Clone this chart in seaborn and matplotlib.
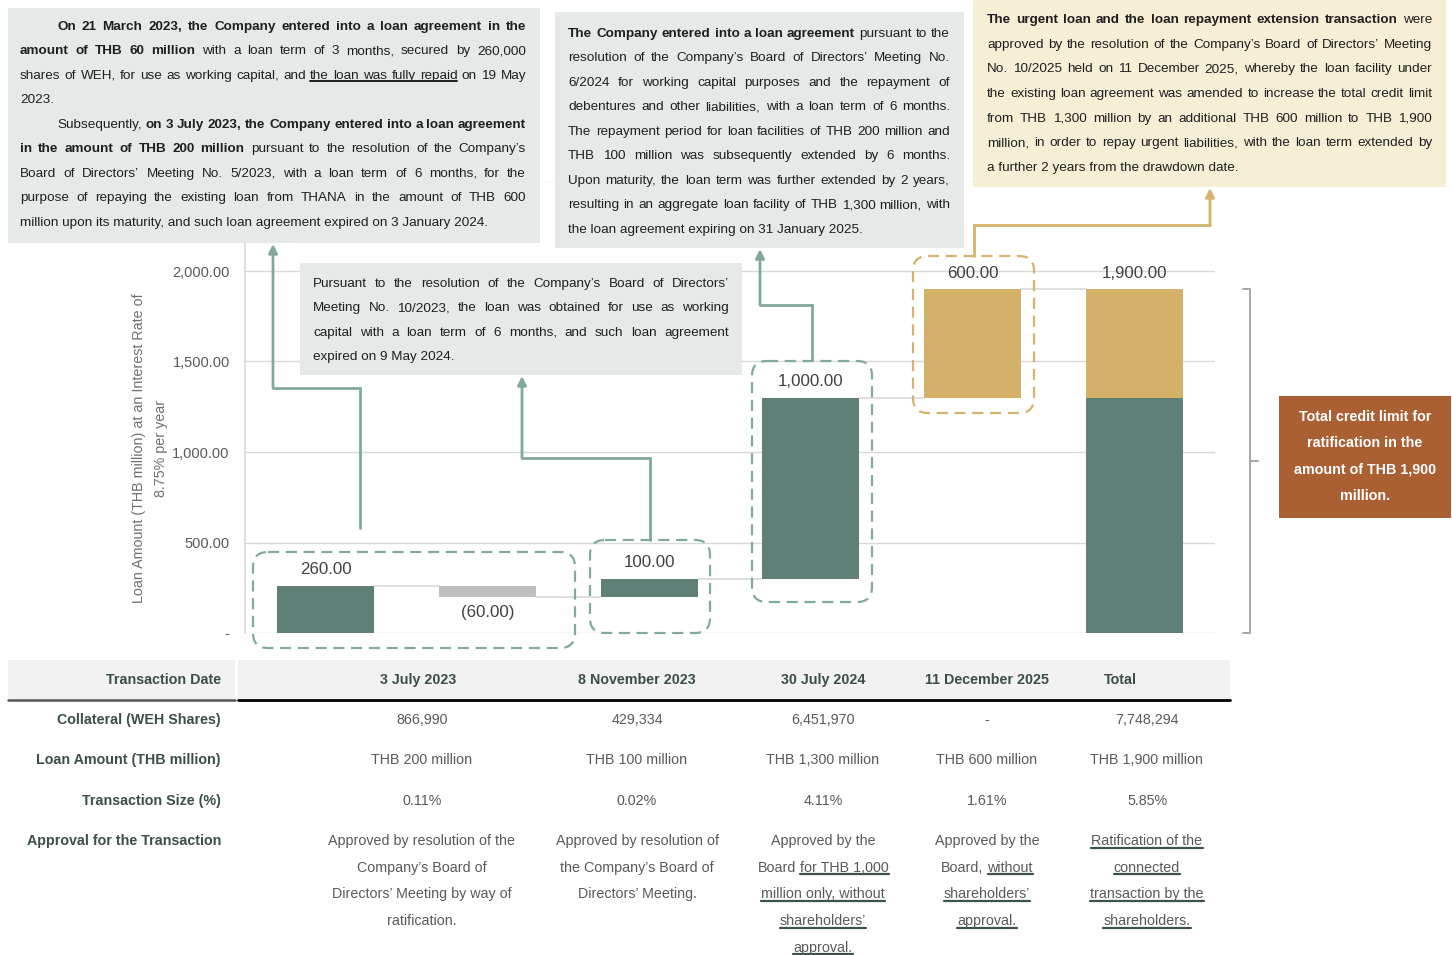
import numpy as np
import pandas as pd
import matplotlib
matplotlib.use("Agg")
import matplotlib.pyplot as plt
import seaborn as sns
from matplotlib.patches import Rectangle, FancyBboxPatch, FancyArrowPatch
from matplotlib.lines import Line2D
from matplotlib.transforms import Affine2D
from matplotlib.ticker import FuncFormatter

# ---------------- data ----------------
steps = ["3 July 2023", "Repaid", "8 November 2023", "30 July 2024", "11 December 2025", "Total"]
changes = [260, -60, 100, 1000, 600]
y_ticks = [0, 500, 1000, 1500, 2000, 2500]

table_dates = ["3 July 2023", "8 November 2023", "30 July 2024", "11 December 2025", "Total"]
collateral = ["866,990", "429,334", "6,451,970", "-", "7,748,294"]
loan_amount = ["THB 200 million", "THB 100 million", "THB 1,300 million", "THB 600 million", "THB 1,900 million"]
txn_size = ["0.11%", "0.02%", "4.11%", "1.61%", "5.85%"]
approval = [
    [[("Approved by resolution of the", "")], [("Company’s Board of", "")],
     [("Directors’ Meeting by way of", "")], [("ratification.", "")]],
    [[("Approved by resolution of", "")], [("the Company’s Board of", "")], [("Directors’ Meeting.", "")]],
    [[("Approved by the", "")], [("Board", ""), ("for THB 1,000", "u")], [("million only, without", "u")],
     [("shareholders’", "u")], [("approval.", "u")]],
    [[("Approved by the", "")], [("Board,", ""), ("without", "u")], [("shareholders’", "u")], [("approval.", "u")]],
    [[("Ratification of the", "u")], [("connected", "u")], [("transaction by the", "u")], [("shareholders.", "u")]],
]

box1_lines = [
    (True, "j", [("On 21 March 2023, the Company entered into a loan agreement in the", "b")]),
    (False, "j", [("amount of THB 60 million", "b"), ("with a loan term of 3 months, secured by 260,000", "")]),
    (False, "j", [("shares of WEH, for use as working capital, and", ""), ("the loan was fully repaid", "u"), ("on 19 May", "")]),
    (False, "l", [("2023.", "")]),
    (True, "j", [("Subsequently,", ""), ("on 3 July 2023, the Company entered into a loan agreement", "b")]),
    (False, "j", [("in the amount of THB 200 million", "b"), ("pursuant to the resolution of the Company’s", "")]),
    (False, "j", [("Board of Directors’ Meeting No. 5/2023, with a loan term of 6 months, for the", "")]),
    (False, "j", [("purpose of repaying the existing loan from THANA in the amount of THB 600", "")]),
    (False, "l", [("million upon its maturity, and such loan agreement expired on 3 January 2024.", "")]),
]
box2_lines = [
    (False, "j", [("The Company entered into a loan agreement", "b"), ("pursuant to the", "")]),
    (False, "j", [("resolution of the Company’s Board of Directors’ Meeting No.", "")]),
    (False, "j", [("6/2024 for working capital purposes and the repayment of", "")]),
    (False, "j", [("debentures and other liabilities, with a loan term of 6 months.", "")]),
    (False, "j", [("The repayment period for loan facilities of THB 200 million and", "")]),
    (False, "j", [("THB 100 million was subsequently extended by 6 months.", "")]),
    (False, "j", [("Upon maturity, the loan term was further extended by 2 years,", "")]),
    (False, "j", [("resulting in an aggregate loan facility of THB 1,300 million, with", "")]),
    (False, "l", [("the loan agreement expiring on 31 January 2025.", "")]),
]
box3_lines = [
    (False, "j", [("The urgent loan and the loan repayment extension transaction", "b"), ("were", "")]),
    (False, "j", [("approved by the resolution of the Company’s Board of Directors’ Meeting", "")]),
    (False, "j", [("No. 10/2025 held on 11 December 2025, whereby the loan facility under", "")]),
    (False, "j", [("the existing loan agreement was amended to increase the total credit limit", "")]),
    (False, "j", [("from THB 1,300 million by an additional THB 600 million to THB 1,900", "")]),
    (False, "j", [("million, in order to repay urgent liabilities, with the loan term extended by", "")]),
    (False, "l", [("a further 2 years from the drawdown date.", "")]),
]
box4_lines = [
    (False, "j", [("Pursuant to the resolution of the Company’s Board of Directors’", "")]),
    (False, "j", [("Meeting No. 10/2023, the loan was obtained for use as working", "")]),
    (False, "j", [("capital with a loan term of 6 months, and such loan agreement", "")]),
    (False, "l", [("expired on 9 May 2024.", "")]),
]
limit_text = ["Total credit limit for", "ratification in the", "amount of THB 1,900", "million."]

# ---------------- style ----------------
GREEN = "#5f8076"
GOLD = "#d4b068"
GREY_BAR = "#bfbfbf"
ARROW_G = "#82a99b"
ARROW_Y = "#d5b36d"
BOX_G = "#e5eae8"
BOX_Y = "#f6efd6"
ORANGE = "#aa6033"
LABEL_DK = "#3b4f47"
INK = "#1f1f1f"
GRID = "#d9d9d9"

sns.set_theme(style="white")
plt.rcParams["font.family"] = ["Liberation Sans", "DejaVu Sans"]

W, H, DPI = 1452, 955, 100
fig = plt.figure(figsize=(W / DPI, H / DPI), dpi=DPI)
PX = Affine2D().scale(1 / W, -1 / H).translate(0, 1) + fig.transFigure
renderer = fig.canvas.get_renderer()


def space_width(size):
    w = []
    for s in ("n n", "nn"):
        t = fig.text(0, 0, s, fontsize=size)
        w.append(t.get_window_extent(renderer).width)
        t.remove()
    return w[0] - w[1]


def put_line(segs, y, x0, x1=None, align="l", size=9.7, color=INK, ul_color=None, ul_lw=1.4):
    base = y + 0.36 * size * DPI / 72
    if align == "j":
        units = [(w, st) for text, st in segs for w in text.split()]
    else:
        units = [(text, st) for text, st in segs]
    arts, widths = [], []
    for w, st in units:
        t = fig.text(0, base, w, transform=PX, fontsize=size, color=color,
                     fontweight="bold" if "b" in st else "normal", ha="left", va="baseline")
        arts.append(t)
        widths.append(t.get_window_extent(renderer).width)
    sp = space_width(size)
    natural = sum(widths) + sp * (len(units) - 1)
    if align == "j" and len(units) > 1:
        gap = (x1 - x0 - sum(widths)) / (len(units) - 1)
        x = x0
    else:
        gap = sp
        x = {"l": x0, "j": x0, "c": x0 - natural / 2, "r": x0 - natural}[align]
    lefts = []
    for t, w in zip(arts, widths):
        t.set_x(x)
        lefts.append(x)
        x += w + gap
    i = 0
    while i < len(units):
        if "u" in units[i][1]:
            j = i
            while j + 1 < len(units) and "u" in units[j + 1][1]:
                j += 1
            fig.add_artist(Line2D([lefts[i], lefts[j] + widths[j]], [base + 2.6, base + 2.6],
                                  transform=PX, color=ul_color or color, lw=ul_lw))
            i = j + 1
        else:
            i += 1


def text_box(rect, fill, lines, x0, x1, y0, step, indent=37):
    fig.add_artist(Rectangle(rect[:2], rect[2], rect[3], transform=PX, facecolor=fill, edgecolor="none"))
    for k, (ind, align, segs) in enumerate(lines):
        put_line(segs, y0 + k * step, x0 + (indent if ind else 0), x1, align)


def elbow_arrow(pts, color):
    xs, ys = zip(*pts[:-1])
    fig.add_artist(Line2D(xs, ys, transform=PX, color=color, lw=2, solid_joinstyle="miter"))
    fig.add_artist(FancyArrowPatch(pts[-2], pts[-1], transform=PX, arrowstyle="-|>", mutation_scale=13,
                                   color=color, lw=2, shrinkA=0, shrinkB=0))


def dashed_box(x, y, w, h, color):
    fig.add_artist(FancyBboxPatch((x, y), w, h, boxstyle="round,pad=0,rounding_size=15", transform=PX,
                                  fill=False, edgecolor=color, lw=1.6, linestyle=(0, (5, 3))))


# ---------------- waterfall ----------------
levels = np.cumsum(changes)
bottoms = np.concatenate([[0], levels[:-1]])
existing = levels[3]
heights = list(changes) + [existing]
bar_bottoms = list(bottoms) + [0]
df = pd.DataFrame({"step": steps, "height": heights})

ax = fig.add_axes([245 / W, 1 - 633 / H, 970 / W, 452.5 / H])
sns.barplot(data=df, x="step", y="height", order=steps, bottom=np.array(bar_bottoms, dtype=float),
            color=GREEN, saturation=1, width=0.6, errorbar=None, ax=ax, zorder=2)
bar_colors = [GREEN, GREY_BAR, GREEN, GREEN, GOLD, GREEN]
for patch, c in zip(ax.patches, bar_colors):
    patch.set_facecolor(c)
    patch.set_edgecolor("none")
ax.bar(5, levels[-1] - existing, bottom=existing, width=0.6, color=GOLD, edgecolor="none", zorder=2)

# connector lines between steps
for i, lv in enumerate(levels):
    ax.plot([i + 0.3, i + 0.7], [lv, lv], color=GRID, lw=1.2, zorder=1)

# value labels
for i, (ch, lv) in enumerate(zip(changes, levels)):
    txt = f"{ch:,.2f}" if ch >= 0 else f"({-ch:,.2f})"
    off = 11.5 if ch >= 0 else -11.5
    ax.annotate(txt, (i, lv), xytext=(0, off), textcoords="offset points", ha="center", va="center",
                fontsize=12.2, color="#404040")
ax.annotate(f"{levels[-1]:,.2f}", (5, levels[-1]), xytext=(0, 11.5), textcoords="offset points",
            ha="center", va="center", fontsize=12.2, color="#404040")

ax.set_xlim(-0.5, 5.5)
ax.set_ylim(0, 2500)
ax.set_yticks(y_ticks)
# the 2,500 gridline sits behind the text boxes, its label is covered in the original
ax.yaxis.set_major_formatter(FuncFormatter(
    lambda v, p: "-" if v == 0 else ("" if v > 2000 else f"{v:,.2f}")))
ax.tick_params(axis="y", length=0, pad=11, labelsize=10.5, labelcolor="#595959")
ax.set_xticks([])
ax.set_xlabel("")
ax.set_ylabel("Loan Amount (THB million) at an Interest Rate of\n8.75% per year", fontsize=10.3,
              color="#6f6f6f", linespacing=1.75)
ax.yaxis.set_label_coords(-0.079, 0.4077)
ax.yaxis.grid(True, color=GRID, lw=1)
ax.set_axisbelow(True)
sns.despine(ax=ax, top=True, right=True, bottom=True)
ax.spines["left"].set_color(GRID)
ax.set_facecolor("none")

# bracket around total bar
bx0, bx1, bx2 = 5.672, 5.715, 5.765
ax.plot([bx0, bx1, bx1, bx0], [levels[-1], levels[-1], 0, 0], color="#a6a6a6", lw=1.4, clip_on=False)
ax.plot([bx1, bx2], [levels[-1] / 2, levels[-1] / 2], color="#a6a6a6", lw=1.4, clip_on=False)

# ---------------- decorations ----------------
dashed_box(253, 552, 322, 96, ARROW_G)
dashed_box(590, 540, 120, 93, ARROW_G)
dashed_box(752, 361, 120, 241, ARROW_G)
dashed_box(913, 256, 121, 157, ARROW_Y)

elbow_arrow([(360, 528), (360, 388), (273, 388), (273, 244)], ARROW_G)
elbow_arrow([(650, 540), (650, 458), (522, 458), (522, 376)], ARROW_G)
elbow_arrow([(812, 360), (812, 305), (760, 305), (760, 249)], ARROW_G)
elbow_arrow([(974, 256), (974, 225), (1210, 225), (1210, 188)], ARROW_Y)

text_box((8, 8, 532, 235), BOX_G, box1_lines, 20, 526, 25, 24.5)
text_box((555, 12, 409, 236), BOX_G, box2_lines, 568, 950, 32, 24.5)
text_box((973, 0, 473, 187), BOX_Y, box3_lines, 987, 1432, 18, 24.7)
text_box((300, 263, 442, 112), BOX_G, box4_lines, 313, 729, 282, 24.5)

# orange limit box
fig.add_artist(Rectangle((1279, 396), 172, 122, transform=PX, facecolor=ORANGE, edgecolor="none"))
for k, line in enumerate(limit_text):
    put_line([(line, "b")], 416 + k * 26.3, 1365, align="c", size=10.3, color="white")

# ---------------- table ----------------
fig.add_artist(Rectangle((8, 660), 227, 39, transform=PX, facecolor="#f2f2f2", edgecolor="none"))
fig.add_artist(Rectangle((238, 660), 992, 39, transform=PX, facecolor="#f2f2f2", edgecolor="none"))
fig.add_artist(Line2D([8, 235], [699.5, 699.5], transform=PX, color="#555555", lw=1.8))
fig.add_artist(Line2D([238, 1230], [699.5, 699.5], transform=PX, color="black", lw=2))

header_x = [418, 637, 823, 987, 1120]
col_x = [422, 637, 823, 987, 1147]
row_labels = ["Transaction Date", "Collateral (WEH Shares)", "Loan Amount (THB million)",
              "Transaction Size (%)", "Approval for the Transaction"]
row_y = [679, 719, 759, 800, 840]
for lab, y in zip(row_labels, row_y):
    put_line([(lab, "b")], y, 221, align="r", size=10.3, color=LABEL_DK)
for d, x in zip(table_dates, header_x):
    put_line([(d, "b")], 679, x, align="c", size=10.3, color=LABEL_DK)
for vals, y in zip([collateral, loan_amount, txn_size], row_y[1:4]):
    for v, x in zip(vals, col_x):
        put_line([(v, "")], y, x, align="c", size=10.3, color="#595959")
for lines, x in zip(approval, col_x):
    for k, segs in enumerate(lines):
        put_line(segs, 840 + k * 26.6, x, align="c", size=10.3, color="#595959",
                 ul_color="#3d5249", ul_lw=1.6)

fig.savefig("out.png", dpi=DPI)
